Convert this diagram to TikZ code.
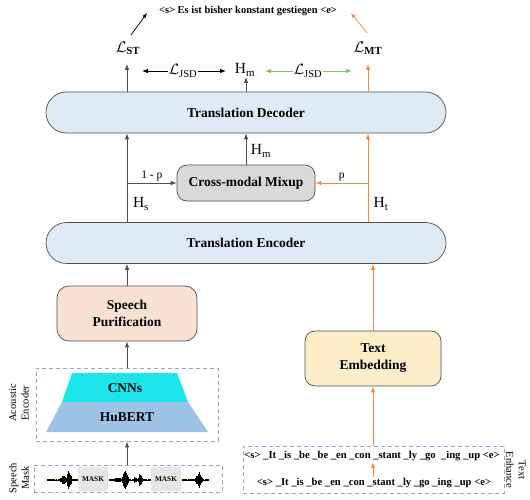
\RequirePackage{fix-cm}
\documentclass[tikz,border=0pt]{standalone}
\usepackage{fontspec}
\setmainfont{Liberation Serif}
\usepackage{amsmath}
\usetikzlibrary{arrows.meta,calc}
\definecolor{blfill}{HTML}{DEEBF7}
\definecolor{edge}{HTML}{505050}
\definecolor{dashc}{HTML}{8EA6D0}
\definecolor{orng}{HTML}{EF8A45}
\definecolor{grn}{HTML}{86C35E}
\definecolor{peach}{HTML}{F9E2D3}
\definecolor{tefill}{HTML}{FDEDC9}
\definecolor{mixfill}{HTML}{D9D9D9}
\definecolor{cnn}{HTML}{1CE6EC}
\definecolor{hub}{HTML}{9DC3E6}
\definecolor{maskc}{HTML}{E6E6E6}
\begin{document}
\begin{tikzpicture}[x=1pt,y=-1pt,
  arr/.style={-{Latex[length=6pt,width=4.5pt]}, line width=0.8pt, draw=edge},
  oarr/.style={-{Latex[length=6pt,width=4.5pt]}, line width=0.8pt, draw=orng},
  garr/.style={-{Latex[length=6pt,width=4.5pt]}, line width=0.8pt, draw=grn},
  pill/.style={draw=edge, line width=0.7pt, fill=blfill, rounded corners=20.5pt,
    minimum width=400pt, minimum height=41pt, inner sep=0pt,
    font=\bfseries\fontsize{13.5}{15}\selectfont},
  rbox/.style={draw=edge, line width=0.7pt, rounded corners=10pt, inner sep=0pt, align=center,
    font=\bfseries\fontsize{13.5}{17}\selectfont},
  dbox/.style={draw=dashc, line width=0.8pt, dash pattern=on 4pt off 3pt, inner sep=0pt},
  big/.style={font=\fontsize{15.5}{16}\selectfont, inner sep=1pt},
  side/.style={font=\fontsize{10.5}{12.5}\selectfont, align=center, inner sep=0pt},
  seqt/.style={font=\bfseries\fontsize{10.6}{12}\selectfont, inner sep=1pt}
]
\useasboundingbox (0,0) rectangle (530,500);
\coordinate (colL) at (127,0);
\coordinate (colR) at (368,0);

% top
\node[font=\bfseries\fontsize{10.5}{12}\selectfont, inner sep=0pt] (out) at (248,11) {<s> Es ist bisher konstant gestiegen <e>};
\node[big] (lst) at (128,48) {$\mathcal{L}_{\mathbf{ST}}$};
\node[big] (lmt) at (368,48) {$\mathcal{L}_{\mathbf{MT}}$};
\coordinate (o1) at (147,13);
\coordinate (o2) at (351,13);
\coordinate (s1) at (131,35);
\coordinate (s2) at (367,33);
\draw[line width=0.7pt, -{Latex[length=5pt,width=4pt]}, draw=black] (s1) -- (o1);
\draw[line width=0.7pt, -{Latex[length=5pt,width=4pt]}, draw=orng] (s2) -- (o2);

% JSD row
\node[big] (hm) at (245,70) {H$_{\text{m}}$};
\node[font=\fontsize{15}{16}\selectfont, inner sep=1pt] (j1) at (183,71) {$\mathcal{L}_{\mathrm{JSD}}$};
\node[font=\fontsize{15}{16}\selectfont, inner sep=1pt] (j2) at (308,71) {$\mathcal{L}_{\mathrm{JSD}}$};
\coordinate (cj1) at (142,71);
\coordinate (cj2) at (226,71);
\coordinate (cj3) at (265,71);
\coordinate (cj4) at (352,71);
\draw[arr, draw=black] (j1.west) -- (cj1);
\draw[arr, draw=black] (j1.east) -- (cj2);
\draw[garr] (j2.west) -- (cj3);
\draw[garr] (j2.east) -- (cj4);

% decoder / encoder
\node[pill] (dec) at (246,112.5) {Translation Decoder};
\node[pill] (enc) at (246,243) {Translation Encoder};
\coordinate (clst) at (127,64);
\coordinate (chm) at (246,77);
\coordinate (clmt) at (368,64);
\draw[arr] (dec.north -| colL) -- (clst);
\draw[arr] (dec.north) -- (chm);
\draw[oarr] (dec.north -| colR) -- (clmt);

% mixup
\node[rbox, fill=mixfill, minimum width=138pt, minimum height=36pt] (mix) at (246,183) {Cross-modal Mixup};
\draw[arr] (enc.north -| colL) -- (dec.south -| colL);
\draw[oarr] (enc.north -| colR) -- (dec.south -| colR);
\draw[arr] (mix.west -| colL) -- (mix.west) node[midway, above=1pt, font=\fontsize{11.5}{12}\selectfont, inner sep=1pt] {1 - p};
\draw[oarr] (mix.east -| colR) -- (mix.east) node[midway, above=1pt, font=\fontsize{11.5}{12}\selectfont, inner sep=1pt] {p};
\draw[arr] (mix.north) -- (dec.south);
\node[big] (hm2) at (261,151) {H$_{\text{m}}$};
\node[big] (hs) at (141,204) {H$_{\text{s}}$};
\node[big] (ht) at (381,204) {H$_{\text{t}}$};

% speech side
\node[rbox, fill=peach, rounded corners=12pt, minimum width=140pt, minimum height=55pt] (sp) at (127,313.5) {Speech\\Purification};
\draw[arr] (sp.north) -- (sp.north |- enc.south);
\node[dbox, minimum width=182pt, minimum height=73pt] (ac) at (127,404.5) {};
\draw[arr] (ac.north) -- (sp.south);
\filldraw[fill=cnn, draw=none] (72,373) -- (177,373) -- (188,402) -- (62,402) -- cycle;
\filldraw[fill=hub, draw=none] (62,402) -- (188,402) -- (208,432) -- (46,432) -- cycle;
\node[font=\bfseries\fontsize{13.5}{15}\selectfont, inner sep=0pt] (cnnt) at (125,388) {CNNs};
\node[font=\bfseries\fontsize{13.5}{15}\selectfont, inner sep=0pt] (hubt) at (127,417) {HuBERT};
\node[side, rotate=90] (acl) at (19,403) {Acoustic\\Encoder};

\node[dbox, minimum width=188pt, minimum height=27pt] (sm) at (128,478.5) {};
\draw[arr] (ac.south |- sm.north) -- (ac.south);
\node[side, rotate=90] (sml) at (19,478) {Speech\\Mask};
\fill[maskc] (78,466.5) rectangle (108,490.5);
\fill[maskc] (151,466.5) rectangle (181,490.5);
\node[font=\bfseries\fontsize{7.3}{8}\selectfont, inner sep=0pt] (m1) at (93,479) {MASK};
\node[font=\bfseries\fontsize{7.3}{8}\selectfont, inner sep=0pt] (m2) at (166,479) {MASK};
\pgfmathsetseed{7}
\foreach \x in {47,47.5,...,77.5} {
  \pgfmathsetmacro\a{(0.9+4*exp(-((\x-63)/2.5)^2)+8.5*exp(-((\x-69)/2.2)^2))*(0.35+0.65*rnd)}
  \draw[line width=0.6pt] (\x,480-\a) -- (\x,480+\a);
}
\foreach \x in {109,109.5,...,150.5} {
  \pgfmathsetmacro\a{(0.9+2.5*exp(-((\x-117)/2)^2)+9.5*exp(-((\x-125)/2.8)^2)+6.5*exp(-((\x-140)/2)^2)+2*exp(-((\x-135)/1.5)^2))*(0.35+0.65*rnd)}
  \draw[line width=0.6pt] (\x,480-\a) -- (\x,480+\a);
}
\foreach \x in {182,182.5,...,208.5} {
  \pgfmathsetmacro\a{(0.9+9*exp(-((\x-199)/2.5)^2))*(0.35+0.65*rnd)}
  \draw[line width=0.6pt] (\x,480-\a) -- (\x,480+\a);
}

% text side
\node[rbox, fill=tefill, minimum width=136pt, minimum height=55pt] (te) at (373,358.5) {Text\\Embedding};
\draw[oarr] (te.north) -- (te.north |- enc.south);
\node[dbox, minimum width=261pt, minimum height=47pt] (tx) at (373.5,469.5) {};
\draw[oarr] (tx.north -| te) -- (te.south);
\node[seqt] (t1) at (372,456) {<s> \_It \_is \_be \_be \_en \_con \_stant \_ly \_go \ \_ing \_up <e>};
\node[seqt] (t2) at (374,483) {<s> \_It \_is \_be \_en \_con \_stant \_ly \_go \_ing \_up <e>};
\draw[oarr] (t2.north -| te) -- (t1.south -| te);
\node[side, rotate=-90] (tel) at (516,470) {Text\\Enhance};
\end{tikzpicture}
\end{document}
